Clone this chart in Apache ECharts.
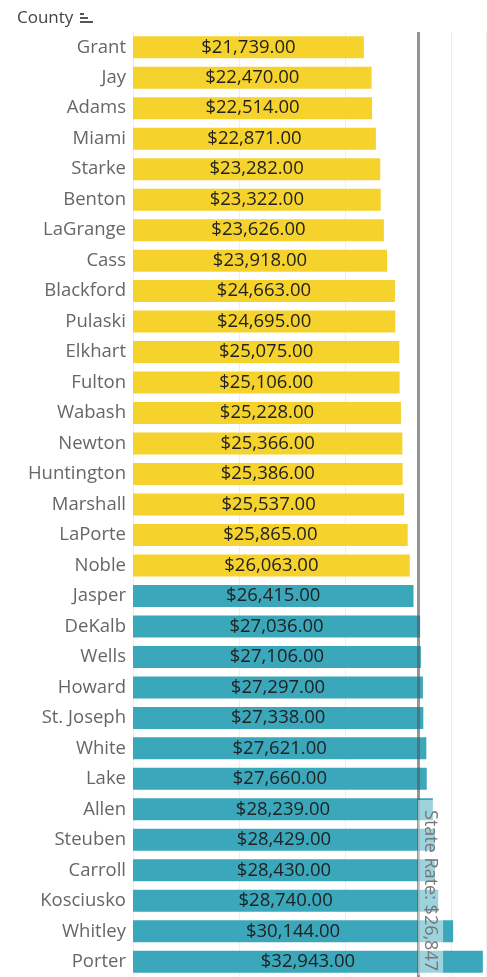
<!DOCTYPE html>
<html>
<head>
<meta charset="utf-8">
<script src="https://cdn.jsdelivr.net/npm/echarts@6/dist/echarts.min.js"></script>
<style>
  html, body { margin: 0; padding: 0; background: #fff; }
  #chart { width: 487px; height: 977px; }
</style>
</head>
<body>
<div id="chart"></div>
<script>
// counties, sorted by median income (ascending)
const counties = ['Grant', 'Jay', 'Adams', 'Miami', 'Starke', 'Benton', 'LaGrange', 'Cass',
    'Blackford', 'Pulaski', 'Elkhart', 'Fulton', 'Wabash', 'Newton', 'Huntington', 'Marshall',
    'LaPorte', 'Noble', 'Jasper', 'DeKalb', 'Wells', 'Howard', 'St. Joseph', 'White', 'Lake',
    'Allen', 'Steuben', 'Carroll', 'Kosciusko', 'Whitley', 'Porter'];
const values = [21739, 22470, 22514, 22871, 23282, 23322, 23626, 23918,
    24663, 24695, 25075, 25106, 25228, 25366, 25386, 25537,
    25865, 26063, 26415, 27036, 27106, 27297, 27338, 27621, 27660,
    28239, 28429, 28430, 28740, 30144, 32943];
// which colour group each county falls in
const groups = ['low', 'low', 'low', 'low', 'low', 'low', 'low', 'low',
    'low', 'low', 'low', 'low', 'low', 'low', 'low', 'low',
    'low', 'low', 'high', 'high', 'high', 'high', 'high', 'high', 'high',
    'high', 'high', 'high', 'high', 'high', 'high'];
const stateRate = 26847;

const groupColors = { low: '#F5D22C', high: '#3AA7BB' };

function money(v) {
    return '$' + v.toLocaleString('en-US', { minimumFractionDigits: 2, maximumFractionDigits: 2 });
}

var chart = echarts.init(document.getElementById('chart'));
var option = {
    animation: false,
    textStyle: { fontFamily: 'Open Sans' },
    graphic: [
        { type: 'text', left: 17, top: 10,
          style: { text: 'County', fontSize: 17, fontFamily: 'Open Sans', fill: '#444' } },
        // little sort icon next to the title
        { type: 'rect', left: 80, top: 13, shape: { width: 4, height: 2 }, style: { fill: '#555' } },
        { type: 'rect', left: 80, top: 17, shape: { width: 8, height: 2 }, style: { fill: '#555' } },
        { type: 'rect', left: 80, top: 21, shape: { width: 13, height: 2 }, style: { fill: '#555' } }
    ],
    grid: { left: 133, right: 1, top: 32, height: 946 },
    xAxis: {
        type: 'value',
        min: 0,
        max: 33240,
        interval: 10000,
        axisLabel: { show: false },
        axisLine: { show: false },
        axisTick: { show: false },
        splitLine: { show: true, lineStyle: { color: '#eeeeee', width: 1 } }
    },
    yAxis: {
        type: 'category',
        inverse: true,
        data: counties,
        axisLine: { show: false },
        axisTick: { show: false },
        axisLabel: { color: '#666', fontSize: 18.5, margin: 7 }
    },
    series: [{
        type: 'bar',
        barWidth: 22,
        data: values.map((v, i) => ({ value: v, itemStyle: { color: groupColors[groups[i]] } })),
        label: {
            show: true,
            position: 'inside',
            color: '#222',
            fontSize: 18.5,
            formatter: p => money(p.value)
        },
        markLine: {
            silent: true,
            symbol: 'none',
            lineStyle: { color: 'rgba(90,90,90,0.65)', width: 3, type: 'solid' },
            label: {
                show: true,
                position: 'insideEndTop',
                distance: [2, 0],
                formatter: 'State Rate: $26,847',
                color: '#777',
                fontSize: 18,
                backgroundColor: 'rgba(255,255,255,0.5)',
                padding: [4, 4, 3, 10]
            },
            data: [{ xAxis: stateRate }]
        }
    }]
};

chart.setOption(option);
</script>
</body>
</html>
